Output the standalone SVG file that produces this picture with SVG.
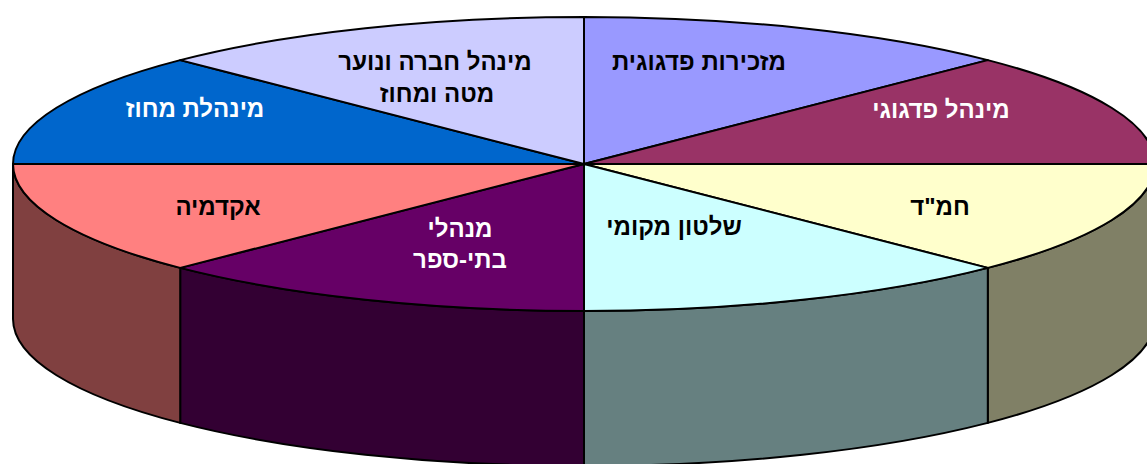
<svg xmlns="http://www.w3.org/2000/svg" width="1147" height="464" viewBox="0 0 1147 464">
  <style>
    .edge { stroke: #000; stroke-width: 2; stroke-linejoin: round; }
    .lbl { font-family: "Liberation Sans", Arial, sans-serif; font-weight: bold; font-size: 24px; text-anchor: middle; direction: rtl; }
    .dark { fill: #000; }
    .light { fill: #fff; }
  </style>
  <rect width="1147" height="464" fill="#fff"/>
  <g id="walls">
    <path id="wall-hamad" class="edge" fill="#808066" d="M1155,164 A571,147 0 0 1 987.8,267.9 L987.8,422.9 A571,147 0 0 0 1155,319 Z"/>
    <path id="wall-shilton" class="edge" fill="#668080" d="M987.8,267.9 A571,147 0 0 1 584,311 L584,466 A571,147 0 0 0 987.8,422.9 Z"/>
    <path id="wall-menahalei" class="edge" fill="#330033" d="M584,311 A571,147 0 0 1 180.2,267.9 L180.2,422.9 A571,147 0 0 0 584,466 Z"/>
    <path id="wall-akademia" class="edge" fill="#804040" d="M180.2,267.9 A571,147 0 0 1 13,164 L13,319 A571,147 0 0 0 180.2,422.9 Z"/>
  </g>
  <g id="node-mazkirut">
    <path class="edge" fill="#9999FF" d="M584,164 L584,17 A571,147 0 0 1 987.8,60.1 Z"/>
    <text class="lbl dark" x="699" y="70">מזכירות פדגוגית</text>
  </g>
  <g id="node-minhal-pedagogi">
    <path class="edge" fill="#993366" d="M584,164 L987.8,60.1 A571,147 0 0 1 1155,164 Z"/>
    <text class="lbl light" x="941" y="118">מינהל פדגוגי</text>
  </g>
  <g id="node-hamad">
    <path class="edge" fill="#FFFFCC" d="M584,164 L1155,164 A571,147 0 0 1 987.8,267.9 Z"/>
    <text class="lbl dark" x="940" y="215">חמ"ד</text>
  </g>
  <g id="node-shilton">
    <path class="edge" fill="#CCFFFF" d="M584,164 L987.8,267.9 A571,147 0 0 1 584,311 Z"/>
    <text class="lbl dark" x="674" y="235">שלטון מקומי</text>
  </g>
  <g id="node-menahalei">
    <path class="edge" fill="#660066" d="M584,164 L584,311 A571,147 0 0 1 180.2,267.9 Z"/>
    <text class="lbl light" x="460" y="237">מנהלי</text>
    <text class="lbl light" x="460" y="268">בתי-ספר</text>
  </g>
  <g id="node-akademia">
    <path class="edge" fill="#FF8080" d="M584,164 L180.2,267.9 A571,147 0 0 1 13,164 Z"/>
    <text class="lbl dark" x="218" y="215">אקדמיה</text>
  </g>
  <g id="node-minhelet-mahoz">
    <path class="edge" fill="#0066CC" d="M584,164 L13,164 A571,147 0 0 1 180.2,60.1 Z"/>
    <text class="lbl light" x="195" y="117">מינהלת מחוז</text>
  </g>
  <g id="node-hevra-noar">
    <path class="edge" fill="#CCCCFF" d="M584,164 L180.2,60.1 A571,147 0 0 1 584,17 Z"/>
    <text class="lbl dark" x="435" y="70">מינהל חברה ונוער</text>
    <text class="lbl dark" x="437" y="102">מטה ומחוז</text>
  </g>
  <g id="connectors"/>
</svg>
